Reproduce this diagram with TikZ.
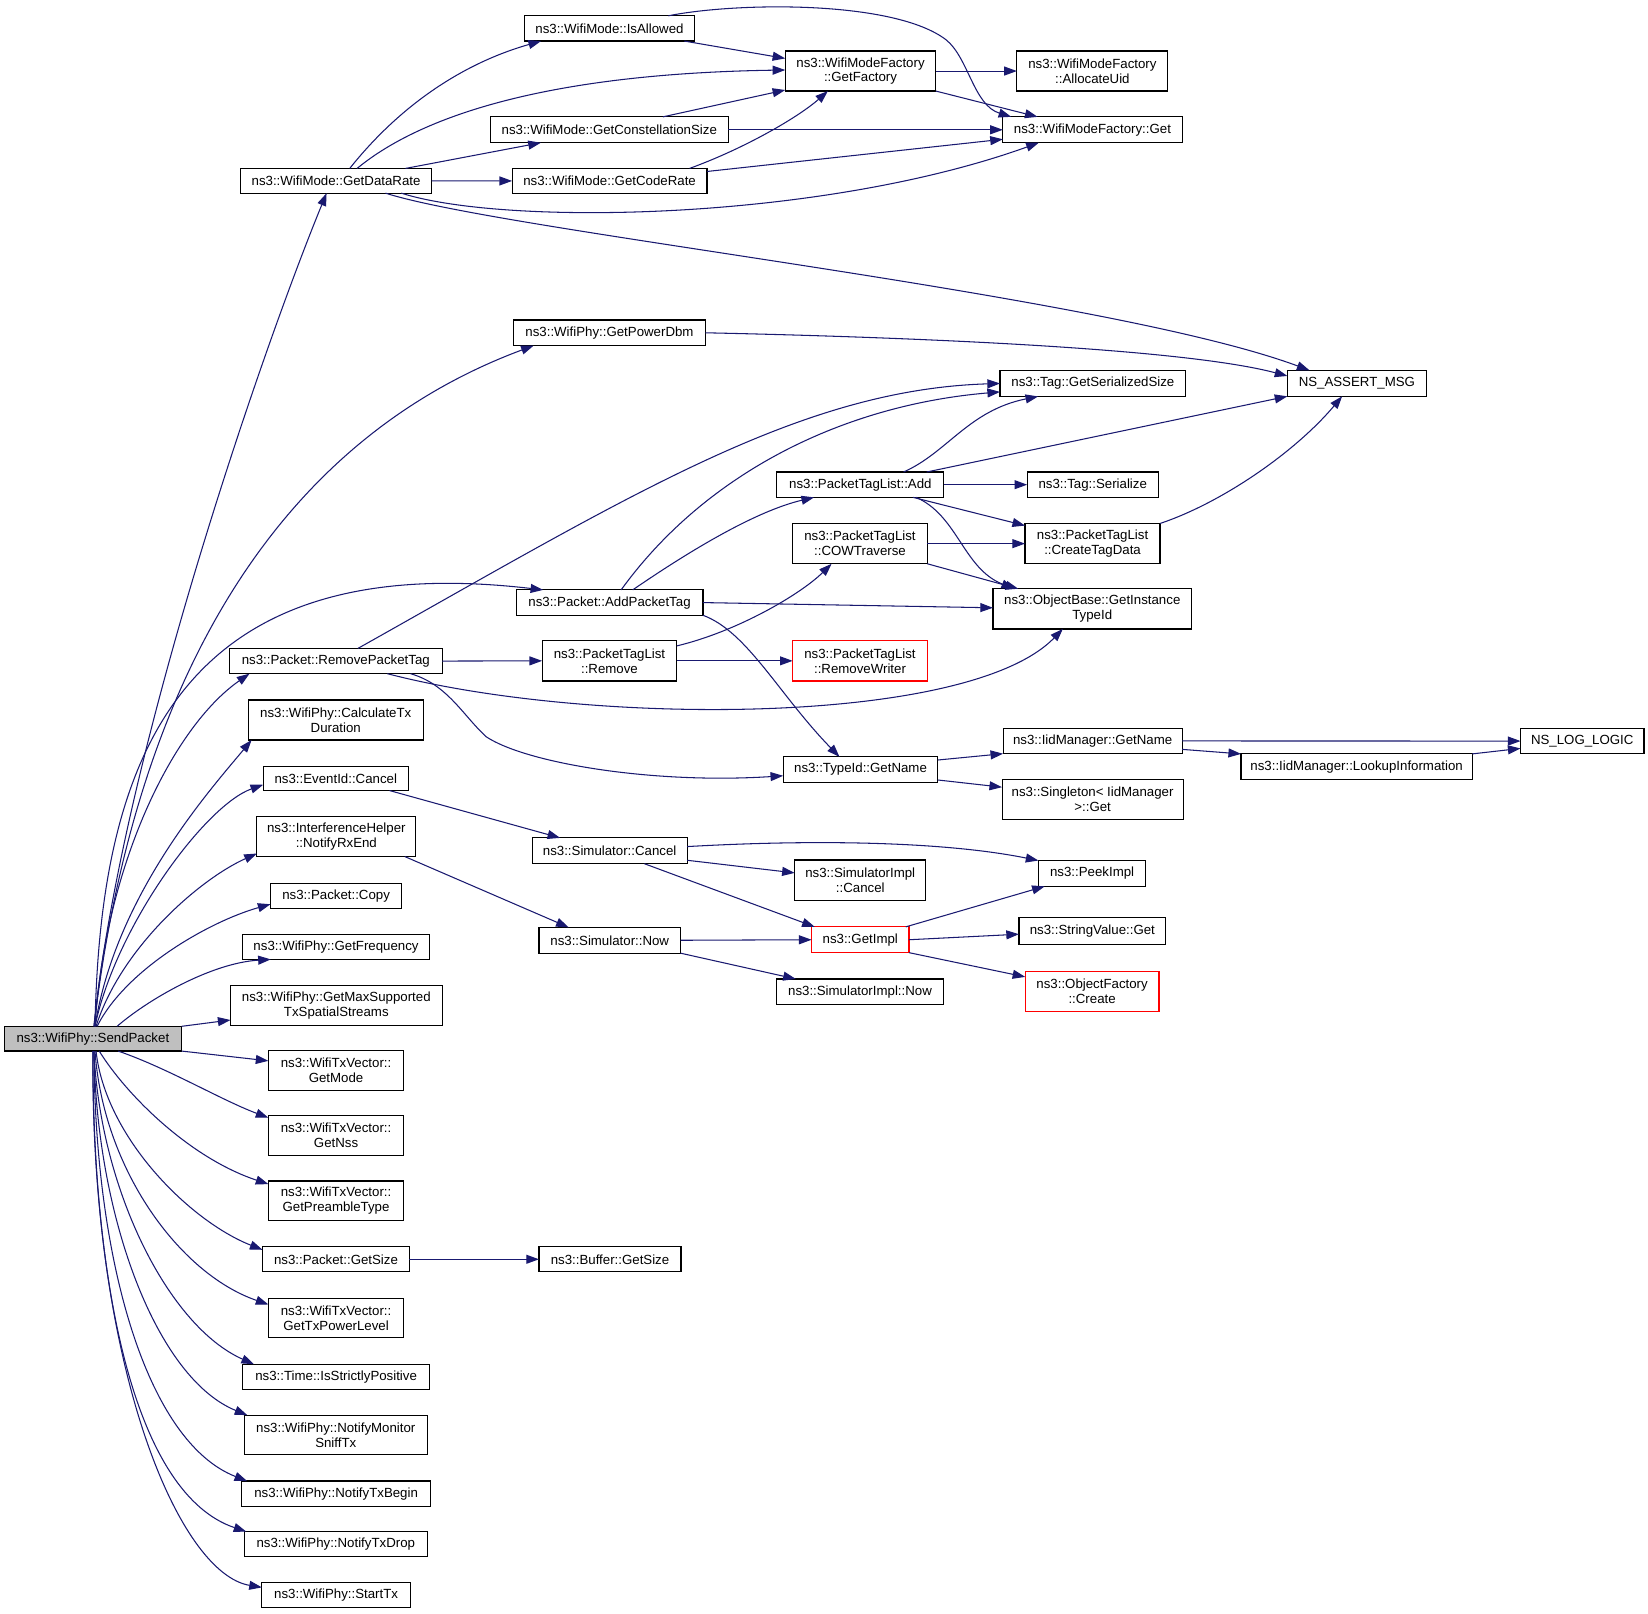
\documentclass[tikz,border=0pt]{standalone}
\usepackage{fontspec}
\setmainfont{Liberation Sans}
\usetikzlibrary{arrows.meta}
\definecolor{navyc}{HTML}{191970}
\definecolor{redc}{HTML}{FF0000}
\definecolor{grayc}{HTML}{BFBFBF}
\newcommand\mkn[7][]{%
  \pgfmathsetmacro\cx{(#3+#5)/2}%
  \pgfmathsetmacro\cy{(#4+#6)/2}%
  \pgfmathsetmacro\bw{#5-#3}%
  \pgfmathsetmacro\bh{#6-#4}%
  \node[fn,minimum width=\bw pt,minimum height=\bh pt,#1] (#2) at (\cx,\cy) {#7};}
\begin{document}
\begin{tikzpicture}[x=1pt,y=-1pt,
  fn/.style={draw=black,line width=1.1pt,fill=white,inner sep=0pt,outer sep=0pt,align=center,
    font=\fontsize{12.6}{14.2}\selectfont},
  redbox/.style={draw=redc},
  cl/.style={draw=navyc,line width=1pt,-{Triangle[length=12pt,width=8.5pt]}}]
\fill[white] (0,0) rectangle (1565.6,1533.3);
\useasboundingbox (0,0) rectangle (1565.6,1533.3);
% column 1
\mkn[fill=grayc]{send}{4}{975}{172.5}{998.5}{ns3::WifiPhy::SendPacket}
% column 2
\mkn{gdr}{228.5}{160}{410}{183.5}{ns3::WifiMode::GetDataRate}
\mkn{rpt}{218}{616}{420}{640}{ns3::Packet::RemovePacketTag}
\mkn{calc}{236}{665}{402}{703}{ns3::WifiPhy::CalculateTx\\Duration}
\mkn{evc}{250}{728}{388}{751}{ns3::EventId::Cancel}
\mkn{nrx}{244}{776}{395}{813.7}{ns3::InterferenceHelper\\::NotifyRxEnd}
\mkn{copy}{257}{839}{381.6}{863}{ns3::Packet::Copy}
\mkn{freq}{230.5}{887.5}{408}{911.4}{ns3::WifiPhy::GetFrequency}
\mkn{maxs}{219}{936}{420}{974}{ns3::WifiPhy::GetMaxSupported\\TxSpatialStreams}
\mkn{gmode}{255}{998}{383.5}{1035.6}{ns3::WifiTxVector::\\GetMode}
\mkn{gnss}{255}{1060}{383.5}{1097.7}{ns3::WifiTxVector::\\GetNss}
\mkn{gpre}{255}{1122}{383.5}{1159.8}{ns3::WifiTxVector::\\GetPreambleType}
\mkn{psize}{249.4}{1184.4}{389}{1208.2}{ns3::Packet::GetSize}
\mkn{gtxp}{255}{1233.5}{383.5}{1271}{ns3::WifiTxVector::\\GetTxPowerLevel}
\mkn{isp}{230.4}{1296}{408.2}{1319.8}{ns3::Time::IsStrictlyPositive}
\mkn{nmon}{232}{1344.4}{406}{1382}{ns3::WifiPhy::NotifyMonitor\\SniffTx}
\mkn{ntxb}{229.8}{1407}{408.8}{1431}{ns3::WifiPhy::NotifyTxBegin}
\mkn{ntxd}{232}{1455}{406}{1479}{ns3::WifiPhy::NotifyTxDrop}
\mkn{stx}{248.8}{1503}{389.8}{1527}{ns3::WifiPhy::StartTx}
% column 3
\mkn{isal}{498}{15}{660}{39}{ns3::WifiMode::IsAllowed}
\mkn{gcs}{465.6}{111}{692}{135.6}{ns3::WifiMode::GetConstellationSize}
\mkn{gcr}{486.5}{160}{671.7}{183.8}{ns3::WifiMode::GetCodeRate}
\mkn{gpd}{488}{304}{670}{328.3}{ns3::WifiPhy::GetPowerDbm}
\mkn{apt}{490.3}{560.4}{667.8}{584.5}{ns3::Packet::AddPacketTag}
\mkn{ptlr}{515}{608.6}{643}{647}{ns3::PacketTagList\\::Remove}
\mkn{simc}{505.5}{796}{652.8}{820.5}{ns3::Simulator::Cancel}
\mkn{simn}{512}{881}{646.5}{905.5}{ns3::Simulator::Now}
\mkn{bgs}{512}{1184.4}{647}{1208.2}{ns3::Buffer::GetSize}
% column 4
\mkn{gfac}{746}{48.5}{889}{86.5}{ns3::WifiModeFactory\\::GetFactory}
\mkn{ptla}{738}{448.4}{896.7}{472.5}{ns3::PacketTagList::Add}
\mkn{cow}{753}{497.3}{881}{535.6}{ns3::PacketTagList\\::COWTraverse}
\mkn[redbox]{rmw}{753}{608.6}{881}{647}{ns3::PacketTagList\\::RemoveWriter}
\mkn{tgn}{744}{719}{891}{743}{ns3::TypeId::GetName}
\mkn{sic}{755}{817}{879.5}{855.5}{ns3::SimulatorImpl\\::Cancel}
\mkn[redbox]{gimp}{771}{880.5}{863.5}{905}{ns3::GetImpl}
\mkn{sin}{738}{930}{896}{954}{ns3::SimulatorImpl::Now}
% column 5
\mkn{alloc}{966}{48.5}{1109.5}{86.5}{ns3::WifiModeFactory\\::AllocateUid}
\mkn{wmfg}{952.7}{111}{1123}{135.6}{ns3::WifiModeFactory::Get}
\mkn{tgs}{950}{352}{1126.5}{376.6}{ns3::Tag::GetSerializedSize}
\mkn{tser}{975.8}{448.4}{1100.4}{472.5}{ns3::Tag::Serialize}
\mkn{ctd}{973.8}{497.3}{1102}{535.6}{ns3::PacketTagList\\::CreateTagData}
\mkn{gitid}{943.3}{559.3}{1132}{597.5}{ns3::ObjectBase::GetInstance\\TypeId}
\mkn{iidn}{953}{691.8}{1123}{716}{ns3::IidManager::GetName}
\mkn{sing}{952}{740.4}{1124}{778.2}{ns3::Singleton< IidManager\\>::Get}
\mkn{peek}{986.5}{817.5}{1088.5}{842}{ns3::PeekImpl}
\mkn{strv}{968}{872}{1107.5}{897}{ns3::StringValue::Get}
\mkn[redbox]{ofc}{974}{922.8}{1101}{961.3}{ns3::ObjectFactory\\::Create}
% column 6/7
\mkn{nsa}{1223}{351.8}{1355}{376.5}{NS\_ASSERT\_MSG}
\mkn{lkp}{1179}{716.2}{1398.6}{740.3}{ns3::IidManager::LookupInformation}
\mkn{nll}{1444.5}{691.8}{1561.8}{716.2}{NS\_LOG\_LOGIC}
% ---- edges from SendPacket (upwards)
\draw[cl] ([xshift=1pt]send.north) .. controls (115,720) and (250,330) .. ([xshift=-9pt]gdr.south);
\draw[cl] ([xshift=1pt]send.north) .. controls (110,800) and (180,450) .. ([xshift=-72pt]gpd.south);
\draw[cl] ([xshift=2pt]send.north) .. controls (95,720) and (170,520) .. ([xshift=-63pt]apt.north);
\draw[cl] ([xshift=2pt]send.north) .. controls (100,820) and (165,690) .. ([xshift=-82pt]rpt.south);
\draw[cl] ([xshift=2pt]send.north) .. controls (110,850) and (200,750) .. ([xshift=3pt]calc.south west);
\draw[cl] ([xshift=2pt]send.north) .. controls (110,880) and (195,765) .. ([yshift=-6pt]evc.west);
\draw[cl] ([xshift=3pt]send.north) .. controls (115,900) and (190,835) .. ([yshift=-16pt]nrx.west);
\draw[cl] ([xshift=4pt]send.north) .. controls (120,920) and (200,875) .. ([yshift=-8pt]copy.west);
\draw[cl] ([xshift=23pt]send.north) .. controls (140,950) and (200,915) .. ([xshift=-62pt]freq.south);
\draw[cl] (send.north east) -- ([yshift=-14pt]maxs.west);
% ---- edges from SendPacket (downwards)
\draw[cl] (send.south east) -- ([yshift=9pt]gmode.west);
\draw[cl] ([xshift=24pt]send.south) .. controls (160,1015) and (210,1045) .. ([yshift=17pt]gnss.west);
\draw[cl] ([xshift=6pt]send.south) .. controls (120,1040) and (180,1100) .. ([yshift=16pt]gpre.west);
\draw[cl] ([xshift=3pt]send.south) .. controls (100,1080) and (180,1160) .. ([yshift=9pt]psize.west);
\draw[cl] ([xshift=2pt]send.south) .. controls (98,1110) and (170,1210) .. ([yshift=13pt]gtxp.west);
\draw[cl] ([xshift=1pt]send.south) .. controls (95,1130) and (160,1260) .. ([xshift=-78pt]isp.north);
\draw[cl] ([xshift=1pt]send.south) .. controls (92,1160) and (150,1310) .. ([xshift=3pt]nmon.north west);
\draw[cl] ([xshift=1pt]send.south) .. controls (90,1200) and (140,1370) .. ([xshift=5pt]ntxb.north west);
\draw[cl] ([xshift=0pt]send.south) .. controls (88,1230) and (130,1420) .. ([xshift=2pt]ntxd.north west);
\draw[cl] ([xshift=0pt]send.south) .. controls (86,1300) and (170,1495) .. ([yshift=7pt]stx.west);
% ---- GetDataRate
\draw[cl] ([xshift=13pt]gdr.north) .. controls (380,100) and (440,60) .. ([xshift=-65pt]isal.south);
\draw[cl] ([xshift=20pt]gdr.north) .. controls (400,110) and (520,70) .. ([yshift=1pt]gfac.west);
\draw[cl] ([xshift=66pt]gdr.north) -- ([xshift=-65pt]gcs.south);
\draw[cl] (gdr.east) -- (gcr.west);
\draw[cl] ([xshift=62pt]gdr.south) .. controls (480,215) and (780,210) .. ([xshift=-51pt]wmfg.south);
\draw[cl] ([xshift=47pt]gdr.south) .. controls (480,220) and (1050,280) .. ([xshift=-45pt]nsa.north);
% ---- WifiMode helpers
\draw[cl] ([xshift=-10pt]isal.south east) -- ([yshift=12pt]gfac.west);
\draw[cl] ([xshift=-25pt]isal.north east) .. controls (700,2) and (850,0) .. (899,38) .. controls (920,55) and (925,100) .. ([xshift=8pt]wmfg.north west);
\draw[cl] ([xshift=51pt]gcs.north) -- ([yshift=-18pt]gfac.west);
\draw[cl] (gcs.east) -- (wmfg.west);
\draw[cl] ([xshift=76pt]gcr.north) .. controls (710,140) and (760,110) .. ([xshift=-31pt]gfac.south);
\draw[cl] ([yshift=9pt]gcr.east) -- ([yshift=-9pt]wmfg.west);
\draw[cl] (gfac.east) -- (alloc.west);
\draw[cl] (gfac.south east) -- ([xshift=33pt]wmfg.north west);
\draw[cl] (gpd.east) .. controls (850,320) and (1120,330) .. ([yshift=7pt]nsa.west);
% ---- Packet tags
\draw[cl] ([xshift=21pt]rpt.north) .. controls (600,470) and (760,370) .. (tgs.west);
\draw[cl] (rpt.east) -- (ptlr.west);
\draw[cl] ([xshift=49pt]rpt.south) .. controls (560,690) and (920,690) .. ([xshift=-28pt]gitid.south);
\draw[cl] ([xshift=71pt]rpt.south) .. controls (425,650) and (440,680) .. (462,700) .. controls (500,725) and (620,745) .. ([yshift=-6pt]tgn.west);
\draw[cl] ([xshift=11pt]apt.north) .. controls (670,450) and (800,385) .. ([yshift=-8pt]tgs.west);
\draw[cl] ([xshift=22pt]apt.north) .. controls (660,520) and (720,485) .. ([xshift=-44pt]ptla.south);
\draw[cl] (apt.east) -- ([yshift=1pt]gitid.west);
\draw[cl] (apt.south east) .. controls (710,600) and (740,660) .. ([xshift=-20pt]tgn.north);
\draw[cl] ([xshift=41pt]ptla.north) .. controls (900,430) and (920,390) .. ([xshift=-52pt]tgs.south);
\draw[cl] ([xshift=63pt]ptla.north) -- (nsa.south west);
\draw[cl] (ptla.east) -- (tser.west);
\draw[cl] ([xshift=50pt]ptla.south) -- ([yshift=-2pt]ctd.north west);
\draw[cl] ([xshift=53pt]ptla.south) .. controls (910,490) and (915,540) .. ([xshift=20pt]gitid.north west);
\draw[cl] (cow.east) -- (ctd.west);
\draw[cl] (cow.south east) -- ([xshift=24pt]gitid.north west);
\draw[cl] (ctd.north east) .. controls (1160,478) and (1230,430) .. ([xshift=-14pt]nsa.south);
\draw[cl] ([yshift=-5pt]ptlr.north east) .. controls (700,600) and (760,565) .. ([xshift=-27pt]cow.south);
\draw[cl] (ptlr.east) -- (rmw.west);
% ---- TypeId
\draw[cl] ([yshift=9pt]tgn.east) -- (iidn.south west);
\draw[cl] ([yshift=-10pt]tgn.east) -- ([yshift=11.5pt]sing.west);
\draw[cl] (iidn.east) -- (nll.west);
\draw[cl] ([yshift=-8pt]iidn.east) -- (lkp.north west);
\draw[cl] (lkp.north east) -- ([yshift=-7pt]nll.west);
% ---- Simulator
\draw[cl] ([xshift=51pt]evc.south) -- ([xshift=-47pt]simc.north);
\draw[cl] ([xshift=65pt]nrx.south) -- ([xshift=-39pt]simn.north);
\draw[cl] ([yshift=4pt]simc.east) .. controls (780,797) and (900,800) .. (peek.north west);
\draw[cl] ([yshift=-9pt]simc.east) -- ([yshift=7pt]sic.west);
\draw[cl] ([xshift=33pt]simc.south) -- ([xshift=3pt]gimp.north west);
\draw[cl] (simn.east) -- (gimp.west);
\draw[cl] (simn.south east) -- ([xshift=-61pt]sin.north);
\draw[cl] ([xshift=-3pt]gimp.north east) -- ([xshift=6pt]peek.south west);
\draw[cl] (gimp.east) -- ([yshift=-3pt]strv.west);
\draw[cl] (gimp.south east) -- ([yshift=14pt]ofc.west);
\draw[cl] (psize.east) -- (bgs.west);
\end{tikzpicture}
\end{document}
